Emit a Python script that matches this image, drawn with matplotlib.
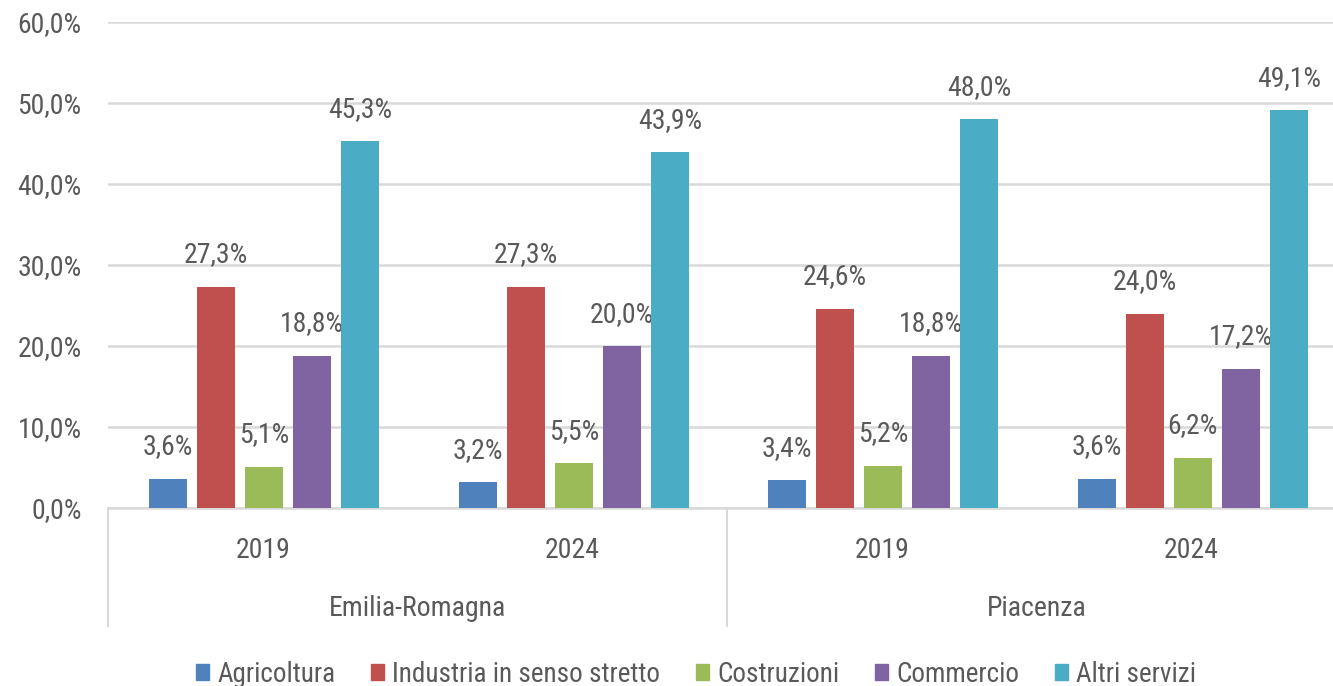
import matplotlib
matplotlib.use("Agg")
import matplotlib.pyplot as plt
from matplotlib.patches import Patch
from matplotlib import font_manager
import numpy as np

names = {f.name for f in font_manager.fontManager.ttflist}
pref = [n for n in ['Liberation Sans Narrow', 'Roboto Condensed', 'Open Sans Condensed', 'Liberation Sans'] if n in names]
plt.rcParams['font.family'] = pref + ['DejaVu Sans']

regions = ["Emilia-Romagna", "Piacenza"]
years = ["2019", "2024", "2019", "2024"]
series = ["Agricoltura", "Industria in senso stretto", "Costruzioni", "Commercio", "Altri servizi"]
agricoltura = [3.6, 3.2, 3.4, 3.6]
industria = [27.3, 27.3, 24.6, 24.0]
costruzioni = [5.1, 5.5, 5.2, 6.2]
commercio = [18.8, 20.0, 18.8, 17.2]
altri_servizi = [45.3, 43.9, 48.0, 49.1]
colors = ["#4F81BD", "#C0504D", "#9BBB59", "#8064A2", "#4BACC6"]

values = [agricoltura, industria, costruzioni, commercio, altri_servizi]
txt = "#595959"
fs = 20

fig = plt.figure(figsize=(13.33, 6.86), dpi=100)
ax = fig.add_axes([108/1333, 1-508/686, (1346-108)/1333, (508-22)/686])

centers = np.arange(len(years)) + 0.5
gw = 309.5
step = 48/gw
width = 38/gw
for i, (name, vals, c) in enumerate(zip(series, values, colors)):
    xs = centers + (i - 2) * step + 0.005
    ax.bar(xs, vals, width=width, color=c, label=name, zorder=3)
    for x, v in zip(xs, vals):
        ax.annotate(f"{v:.1f}%".replace(".", ","), (x, v), xytext=(0, 23),
                    textcoords="offset points", ha="center", va="center",
                    fontsize=fs, color=txt)

ax.set_xlim(0, 4)
ax.set_ylim(0, 60)
ax.set_yticks(np.arange(0, 61, 10))
ax.set_yticklabels([f"{t:.1f}%".replace(".", ",") for t in np.arange(0, 61, 10)],
                   fontsize=fs, color=txt)
ax.tick_params(axis="y", length=0, pad=19)
ax.set_xticks([])
ax.grid(axis="y", color="#D9D9D9", lw=1.8, zorder=0)
for s in ["top", "right", "left"]:
    ax.spines[s].set_visible(False)
ax.spines["bottom"].set_color("#D9D9D9")
ax.spines["bottom"].set_linewidth(1.8)

# multi-level category axis
low = -(626-508)/486
for xv in [0, 2, 4]:
    ax.plot([xv, xv], [0, low], transform=ax.get_xaxis_transform(),
            color="#D9D9D9", lw=1.5, clip_on=False)
for x, y in zip(centers, years):
    ax.text(x, -(550-508)/486, y, transform=ax.get_xaxis_transform(),
            ha="center", va="center", fontsize=fs, color=txt)
for k, r in enumerate(regions):
    ax.text(2*k + 1, -(608-508)/486, r, transform=ax.get_xaxis_transform(),
            ha="center", va="center", fontsize=fs, color=txt)

handles = [Patch(color=c, label=s) for s, c in zip(series, colors)]
fig.legend(handles=handles, loc="center", bbox_to_anchor=(696/1333, 1-674/686),
           ncol=5, frameon=False, fontsize=19.5, handlelength=0.5, handleheight=0.5,
           handletextpad=0.3, columnspacing=1.3, labelcolor=txt)

fig.savefig("out.png", dpi=100)
